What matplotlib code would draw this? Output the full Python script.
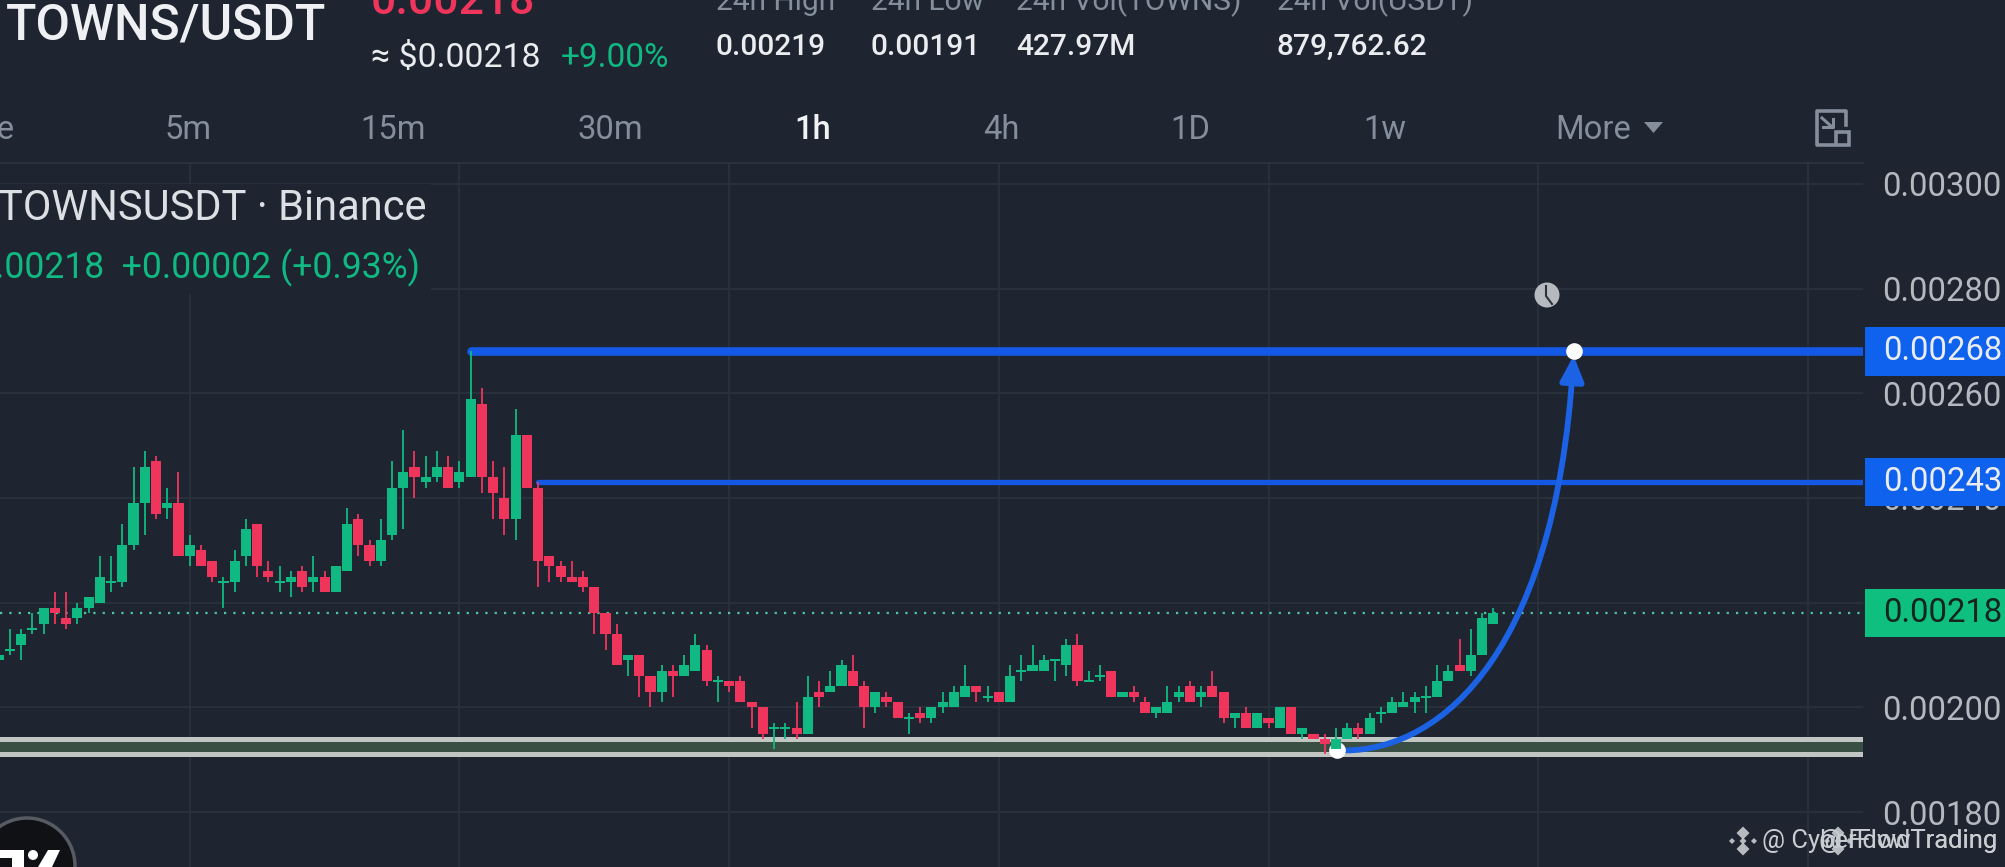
import matplotlib
matplotlib.use("Agg")
import matplotlib.pyplot as plt
from matplotlib.patches import Circle, FancyArrowPatch, Polygon, Rectangle
from matplotlib.path import Path
from matplotlib.transforms import blended_transform_factory

plt.rcParams['font.family'] = ['Roboto', 'DejaVu Sans']

BG = '#1e2530'
GRID = '#29313c'
UP = '#10b981'
DOWN = '#f0355c'
BLUE = '#1459e6'
GREY = '#848e9c'
LIGHT = '#eaecef'

# candles, in units of 0.00001 USDT
opens = [209, 211, 212, 215, 216, 219, 217, 217, 219, 220, 224, 224, 231, 239, 247, 238, 239, 229, 230, 228,
         224, 224, 229, 235, 226, 224, 224, 226, 224, 225, 222, 226, 236, 231, 228, 233, 242, 246, 243, 244,
         246, 243, 244, 258, 244, 240, 236, 252, 242, 229, 227, 225, 225, 223, 218, 214, 209, 210, 206, 203,
         207, 206, 207, 211, 205, 205, 205, 201, 200, 196, 196, 196, 195, 203, 203, 204, 207, 204, 200, 202,
         201, 198, 199, 198, 200, 200, 202, 204, 202, 203, 201, 207, 207, 207, 209, 208, 212, 205, 206, 207,
         202, 203, 201, 199, 199, 202, 204, 202, 204, 203, 198, 199, 196, 198, 196, 200, 195, 195, 194, 192,
         194, 196, 195, 199, 199, 200, 201, 202, 202, 205, 208, 207, 210, 216]
highs = [211, 215, 215, 218, 219, 222, 222, 220, 221, 229, 229, 235, 246, 249, 248, 242, 245, 233, 231, 228,
         225, 230, 236, 235, 228, 227, 226, 227, 229, 226, 227, 238, 237, 232, 236, 247, 253, 249, 248, 249,
         248, 247, 268, 261, 247, 246, 257, 252, 243, 229, 228, 228, 226, 223, 218, 216, 210, 210, 206, 208,
         208, 210, 214, 212, 206, 205, 206, 201, 200, 197, 197, 201, 206, 205, 207, 209, 210, 205, 203, 203,
         201, 199, 200, 200, 203, 204, 208, 204, 204, 203, 208, 210, 212, 210, 209, 213, 214, 207, 208, 207,
         203, 204, 202, 200, 204, 204, 205, 204, 207, 203, 199, 200, 199, 198, 200, 200, 196, 195, 195, 196,
         197, 197, 199, 200, 202, 203, 203, 204, 208, 208, 213, 215, 218, 219]
lows = [209, 210, 209, 214, 214, 216, 215, 216, 218, 220, 222, 223, 230, 233, 236, 236, 229, 227, 227, 224,
        219, 222, 227, 225, 224, 222, 221, 222, 222, 222, 222, 226, 229, 227, 227, 232, 234, 240, 242, 243,
        242, 242, 244, 241, 236, 233, 232, 242, 223, 224, 224, 224, 222, 214, 211, 208, 206, 202, 200, 201,
        202, 206, 207, 204, 201, 203, 201, 196, 194, 192, 194, 194, 195, 200, 203, 204, 204, 196, 199, 200,
        198, 195, 197, 197, 199, 200, 202, 201, 201, 201, 201, 205, 207, 207, 205, 206, 204, 205, 205, 202,
        202, 201, 199, 198, 199, 201, 201, 200, 202, 197, 196, 196, 196, 196, 196, 195, 194, 194, 191, 192,
        194, 194, 195, 197, 199, 200, 199, 199, 202, 205, 207, 206, 210, 216]
closes = [210, 211, 214, 215, 219, 218, 216, 219, 221, 225, 224, 231, 239, 246, 237, 239, 229, 231, 227, 225,
          224, 228, 234, 227, 225, 224, 225, 223, 225, 222, 227, 235, 231, 228, 232, 242, 245, 244, 244, 246,
          242, 245, 259, 244, 241, 236, 252, 242, 228, 227, 225, 224, 223, 218, 214, 208, 210, 206, 203, 207,
          206, 208, 212, 205, 205, 204, 201, 200, 195, 196, 196, 195, 202, 202, 204, 208, 204, 200, 203, 201,
          198, 198, 198, 200, 201, 203, 204, 203, 202, 201, 206, 207, 208, 209, 209, 212, 205, 205, 206, 202,
          203, 202, 199, 200, 201, 203, 201, 203, 202, 198, 199, 196, 199, 197, 200, 195, 196, 194, 193, 194,
          196, 195, 198, 199, 201, 201, 202, 202, 205, 207, 207, 210, 217, 218]

price_ticks = [0.0018, 0.0020, 0.0022, 0.0024, 0.0026, 0.0028, 0.0030]
time_grid = [17, 41, 65, 89, 113, 137, 161]

target_high = 0.00268
target_low = 0.00243
last_price = 0.00218
support_top = 0.00194
support_bottom = 0.00191
curve_start = (119.1, 0.001918)
curve_ctrl1 = (127.3, 0.001909)
curve_ctrl2 = (138.46, 0.002071)
curve_end = (140.15, 0.002672)

W, H = 2006, 867
fig = plt.figure(figsize=(W / 100, H / 100), dpi=100, facecolor=BG)

# price chart, placed so candles land on the same pixels as the screenshot
ax = fig.add_axes([0, 0, 1863 / W, (H - 163) / H], facecolor=BG)
ax.set_xlim(0.1157, 165.9)
ax.set_ylim(0.001695, 0.00304)
for s in ['left', 'bottom', 'right']:
    ax.spines[s].set_visible(False)
ax.spines['top'].set_color(GRID)
ax.spines['top'].set_linewidth(1.5)
ax.set_axisbelow(True)
ax.set_xticks(time_grid)
ax.set_yticks(price_ticks)
ax.set_yticklabels([f'{p:.5f}' for p in price_ticks])
ax.grid(True, color=GRID, linewidth=1.4)
ax.yaxis.tick_right()
ax.tick_params(axis='y', length=0, pad=14, labelsize=23.6, labelcolor='#b4b8bf')
ax.tick_params(axis='x', length=0, labelbottom=False)

# legend block hides the grid behind it
ax.add_patch(Rectangle((0, 0.00279), 38.5, 0.00021, color=BG, zorder=1.5, lw=0))

ax.axhline(last_price, color='#4fc9a4', linewidth=1.6, linestyle=(0, (1, 3.2)), zorder=1.8)

# support band
ax.axhspan(support_bottom, support_top, color='#3a4f44', lw=0, zorder=2)
ax.axhline(support_top, color='#c2c6c3', linewidth=3.6, zorder=2.2)
ax.axhline(support_bottom, color='#c2c6c3', linewidth=3.6, zorder=2.2)

# target levels
ax.plot([42, 166], [target_high, target_high], color=BLUE, linewidth=6.2, solid_capstyle='round', zorder=3)
ax.plot([48, 166], [target_low, target_low], color=BLUE, linewidth=3.8, solid_capstyle='round', zorder=3)

# curved projection
curve = Path([curve_start, curve_ctrl1, curve_ctrl2, curve_end],
             [Path.MOVETO, Path.CURVE4, Path.CURVE4, Path.CURVE4])
ax.add_patch(FancyArrowPatch(path=curve, arrowstyle='-|>,head_length=15,head_width=7', mutation_scale=1,
                             shrinkA=0, shrinkB=0, color='#1c62e4', linewidth=4.2, zorder=3.5))
ax.plot([curve_start[0], curve_end[0]], [curve_start[1], target_high], linestyle='none', marker='o',
        markersize=12, color='white', markeredgewidth=0, zorder=3.8, clip_on=False)

# candles
x = list(range(len(opens)))
colors = [UP if c >= o else DOWN for o, c in zip(opens, closes)]
ax.vlines(x, [v * 1e-5 for v in lows], [v * 1e-5 for v in highs], colors=colors, linewidth=1.3, zorder=4)
bottoms = [min(o, c) * 1e-5 if o != c else (o - 0.2) * 1e-5 for o, c in zip(opens, closes)]
heights = [abs(c - o) * 1e-5 if o != c else 0.4e-5 for o, c in zip(opens, closes)]
ax.bar(x, heights, bottom=bottoms, width=0.9, color=colors, linewidth=0, zorder=4.5)

# price tags on the axis
tag = blended_transform_factory(ax.transAxes, ax.transData)
for price, colour, txt in [(target_low, '#0f62ee', LIGHT), (last_price, '#0fbf80', '#16231f'),
                           (target_high, '#0f62ee', LIGHT)]:
    ax.add_patch(Rectangle((1.001, price - 4.6e-5), 0.1, 9.2e-5, transform=tag, color=colour, lw=0,
                           clip_on=False, zorder=6))
    ax.text(1883 / 1863, price, f'{price:.5f}', transform=tag, color=txt, fontsize=23.6, va='center',
            ha='left', clip_on=False, zorder=7)

# overlay in pixel coordinates for the app chrome
ui = fig.add_axes([0, 0, 1, 1], facecolor='none')
ui.set_xlim(0, W)
ui.set_ylim(H, 0)
ui.axis('off')


def label(px, py, s, size, color=LIGHT, ha='left', weight='normal'):
    ui.text(px, py, s, fontsize=size, color=color, ha=ha, va='center', fontweight=weight)


label(6, 25, 'TOWNS/USDT', 36, '#eef0f3', weight='medium')
label(371, 2, '0.00218', 32, DOWN, weight='medium')
label(371, 58, '≈ $0.00218', 24.4, LIGHT)
label(561, 58, '+9.00%', 24, UP)

for px, head, val in [(716, '24h High', '0.00219'), (871, '24h Low', '0.00191'),
                      (1016, '24h Vol(TOWNS)', '427.97M'), (1277, '24h Vol(USDT)', '879,762.62')]:
    label(px, 2, head, 21.5, GREY)
    label(px, 47, val, 21.5, LIGHT, weight='medium')

for px, s in [(14, 'Line'), (212, '5m'), (426, '15m'), (643, '30m'), (1020, '4h'), (1210, '1D'), (1406, '1w'),
              (1631, 'More')]:
    label(px, 130, s, 23.6, GREY, ha='right')
label(831, 130, '1h', 23.6, '#f2f3f5', ha='right', weight='medium')
ui.add_patch(Polygon([[1644, 122], [1663, 122], [1653.5, 133]], color=GREY, lw=0))

# expand icon
ui.plot([1846, 1846, 1817, 1817, 1833], [125, 111, 111, 145, 145], color=GREY, linewidth=2.6)
ui.add_patch(Rectangle((1836, 132), 13, 13, fill=False, edgecolor=GREY, linewidth=2.6))
ui.plot([1822, 1832], [118, 127], color=GREY, linewidth=2.2)
ui.plot([1823, 1833, 1833], [127, 127, 119], color=GREY, linewidth=2.2)

label(427, 208, 'TOWNSUSDT · Binance', 30, '#dcdfe4', ha='right')
label(420, 268, '0.00218  +0.00002 (+0.93%)', 25.6, UP, ha='right')

# clock icon
ui.add_patch(Circle((1547, 295), 12.5, color='#b6babf', lw=0))
ui.plot([1546, 1546, 1552], [286, 296, 304], color='#2c323c', linewidth=1.5)

# logo in the corner
ui.add_patch(Circle((27, 866), 48, facecolor='#101114', edgecolor='#565b63', linewidth=2.5))
ui.add_patch(Rectangle((0, 850), 24, 8, color='white', lw=0))
ui.add_patch(Rectangle((12, 850), 12, 17, color='white', lw=0))
ui.add_patch(Circle((33, 855), 5, color='white', lw=0))
ui.add_patch(Polygon([[48, 850], [60, 850], [52, 867], [38, 867]], color='white', lw=0))


# watermark, two stamps on top of each other
def diamond(cx, cy):
    for dx, dy, r in [(0, -8, 6.5), (0, 8, 6.5), (-11, 0, 3), (11, 0, 3), (0, 0, 3.5)]:
        ui.add_patch(Polygon([[cx + dx - r, cy + dy], [cx + dx, cy + dy - r], [cx + dx + r, cy + dy],
                              [cx + dx, cy + dy + r]], color='#c9ccd0', lw=0, alpha=0.9))


diamond(1743, 841)
diamond(1838, 841)
label(1997, 841, '@ CyberFlowTrading', 18.4, '#c9ccd0', ha='right')
label(1997, 841, '@ FdwdTrading', 18.4, '#c9ccd0', ha='right')

fig.savefig('out.png', dpi=100, facecolor=BG)
